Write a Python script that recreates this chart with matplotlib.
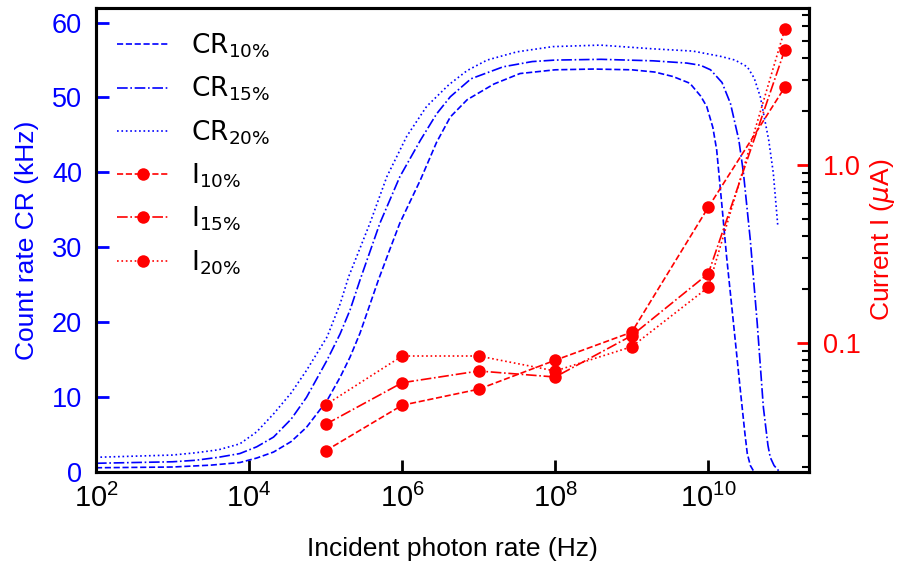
import numpy as np
import matplotlib
matplotlib.use('Agg')
import matplotlib.pyplot as plt
from matplotlib.ticker import FixedLocator, LogLocator, NullFormatter, FixedFormatter, NullLocator

# ---------------- data ----------------
cr10_logx = [2.0, 3.0, 3.5, 3.88, 4.1, 4.32, 4.55, 4.75, 5.02, 5.19, 5.32, 5.45, 5.69,
             5.84, 5.97, 6.24, 6.45, 6.63, 6.85, 7.2, 7.54, 8.0, 8.5, 9.0, 9.3, 9.54,
             9.76, 9.9, 9.98, 10.06, 10.11, 10.18, 10.24, 10.33, 10.42, 10.48, 10.51,
             10.55, 10.59]
cr10 = [0.5, 0.6, 0.85, 1.2, 1.8, 2.6, 4.0, 5.9, 9.5, 12.6, 15.3, 18.5, 25.6,
        29.7, 33.2, 39.0, 44.0, 47.4, 49.7, 51.8, 53.2, 53.7, 53.8, 53.7, 53.4, 52.8,
        51.9, 50.2, 48.8, 46.0, 43.0, 35.4, 28.7, 19.8, 10.8, 5.0, 2.4, 0.8, 0.1]

cr15_logx = [2.0, 3.0, 3.3, 3.6, 3.88, 4.1, 4.32, 4.55, 4.75, 5.02, 5.19, 5.32, 5.45,
             5.71, 5.97, 6.24, 6.45, 6.63, 6.9, 7.32, 7.7, 8.0, 8.6, 9.28, 9.72, 9.9,
             10.03, 10.18, 10.29, 10.40, 10.46, 10.55, 10.64, 10.72, 10.78, 10.81,
             10.86, 10.92]
cr15 = [1.1, 1.3, 1.5, 1.9, 2.4, 3.3, 4.6, 7.0, 9.9, 14.9, 18.4, 21.6, 25.6,
        33.2, 39.4, 44.3, 47.8, 50.1, 52.5, 54.1, 54.8, 55.0, 55.1, 54.9, 54.6, 54.3,
        53.7, 52.0, 49.2, 44.3, 39.9, 30.9, 19.8, 8.6, 3.5, 1.9, 0.8, 0.1]

cr20_logx = [2.0, 3.0, 3.3, 3.6, 3.88, 4.1, 4.32, 4.55, 4.75, 5.02, 5.19, 5.30, 5.58,
             5.80, 6.06, 6.32, 6.61, 6.85, 7.11, 7.50, 7.97, 8.59, 9.28, 9.80, 10.16,
             10.35, 10.51, 10.60, 10.68, 10.79, 10.85, 10.91]
cr20 = [1.9, 2.2, 2.5, 2.9, 3.7, 5.3, 7.7, 10.5, 13.5, 18.0, 22.4, 26.0, 33.2,
        39.4, 44.8, 48.8, 51.7, 53.6, 55.0, 56.1, 56.8, 57.0, 56.5, 56.2, 55.5,
        55.0, 54.1, 52.6, 50.1, 44.3, 39.9, 32.7]

i_rate = [1e5, 1e6, 1e7, 1e8, 1e9, 1e10, 1e11]
i10 = [0.0248, 0.0447, 0.0550, 0.080, 0.115, 0.578, 2.73]
i15 = [0.0349, 0.0598, 0.0696, 0.0644, 0.110, 0.245, 4.43]
i20 = [0.0449, 0.0845, 0.0845, 0.0696, 0.0953, 0.2056, 5.79]

x_ticks = [1e2, 1e4, 1e6, 1e8, 1e10]
x_ticklabels = [r'$\mathdefault{10^{2}}$', r'$\mathdefault{10^{4}}$', r'$\mathdefault{10^{6}}$',
                r'$\mathdefault{10^{8}}$', r'$\mathdefault{10^{10}}$']
cr_ticks = [0, 10, 20, 30, 40, 50, 60]
i_ticks = [0.1, 1.0]
i_ticklabels = ['0.1', '1.0']

# ---------------- figure ----------------
plt.rcParams['font.family'] = ['Liberation Sans', 'DejaVu Sans']
BLUE = '#0000ff'
RED = '#ff0000'

fig = plt.figure(figsize=(8.97, 5.64), dpi=100)
ax = fig.add_axes([0.107, 0.164, 0.7952, 0.821])
ax2 = ax.twinx()

lw = 1.2
h1, = ax.plot(10 ** np.array(cr10_logx), cr10, ls='--', color=BLUE, lw=lw, label=r'CR$_{\mathregular{10\%}}$')
h2, = ax.plot(10 ** np.array(cr15_logx), cr15, ls='-.', color=BLUE, lw=lw, label=r'CR$_{\mathregular{15\%}}$')
h3, = ax.plot(10 ** np.array(cr20_logx), cr20, ls=':', color=BLUE, lw=lw, label=r'CR$_{\mathregular{20\%}}$')

mk = dict(marker='o', ms=9, mec=RED, mfc=RED, mew=0)
h4, = ax2.plot(i_rate, i10, ls='--', color=RED, lw=lw, label=r'I$_{\mathregular{10\%}}$', **mk)
h5, = ax2.plot(i_rate, i15, ls='-.', color=RED, lw=lw, label=r'I$_{\mathregular{15\%}}$', **mk)
h6, = ax2.plot(i_rate, i20, ls=':', color=RED, lw=lw, label=r'I$_{\mathregular{20\%}}$', **mk)

ax.set_xscale('log')
ax.set_xlim(1e2, 10 ** 11.32)
ax.set_ylim(0, 61.9)
ax2.set_yscale('log')
ax2.set_ylim(0.01897, 7.57)

ax.xaxis.set_major_locator(FixedLocator(x_ticks))
ax.xaxis.set_major_formatter(FixedFormatter(x_ticklabels))
ax.xaxis.set_minor_locator(NullLocator())
ax.yaxis.set_major_locator(FixedLocator(cr_ticks))

ax2.yaxis.set_major_locator(FixedLocator(i_ticks))
ax2.yaxis.set_major_formatter(FixedFormatter(i_ticklabels))
ax2.yaxis.set_minor_locator(LogLocator(base=10, subs=np.arange(2, 10)))
ax2.yaxis.set_minor_formatter(NullFormatter())

ax.tick_params(axis='x', which='major', direction='in', length=9, width=2,
               color='black', labelsize=21, pad=9)
ax.tick_params(axis='y', which='major', direction='in', length=9, width=2,
               colors=BLUE, labelsize=19.5, pad=10)
ax2.tick_params(axis='y', which='major', direction='in', length=9, width=2,
                colors=RED, labelsize=19.5, pad=10)
ax2.tick_params(axis='y', which='minor', direction='in', length=5, width=1.5,
                color='black')

for a in (ax, ax2):
    for s in a.spines.values():
        s.set_linewidth(2.2)

ax.set_xlabel('Incident photon rate (Hz)', fontsize=19, labelpad=17)
ax.set_ylabel('Count rate CR (kHz)', fontsize=19, color=BLUE, labelpad=9)
ax2.set_ylabel(r'Current I ($\mu$A)', fontsize=19, color=RED, labelpad=5)

handles = [h1, h2, h3, h4, h5, h6]
ax2.legend(handles, [h.get_label() for h in handles], loc='upper left',
           bbox_to_anchor=(0.03, 0.95), frameon=False,
           prop={'family': 'DejaVu Sans', 'size': 19},
           handlelength=1.95, handletextpad=0.85, labelspacing=0.56,
           borderaxespad=0, borderpad=0)

fig.savefig('out.png', dpi=100)
